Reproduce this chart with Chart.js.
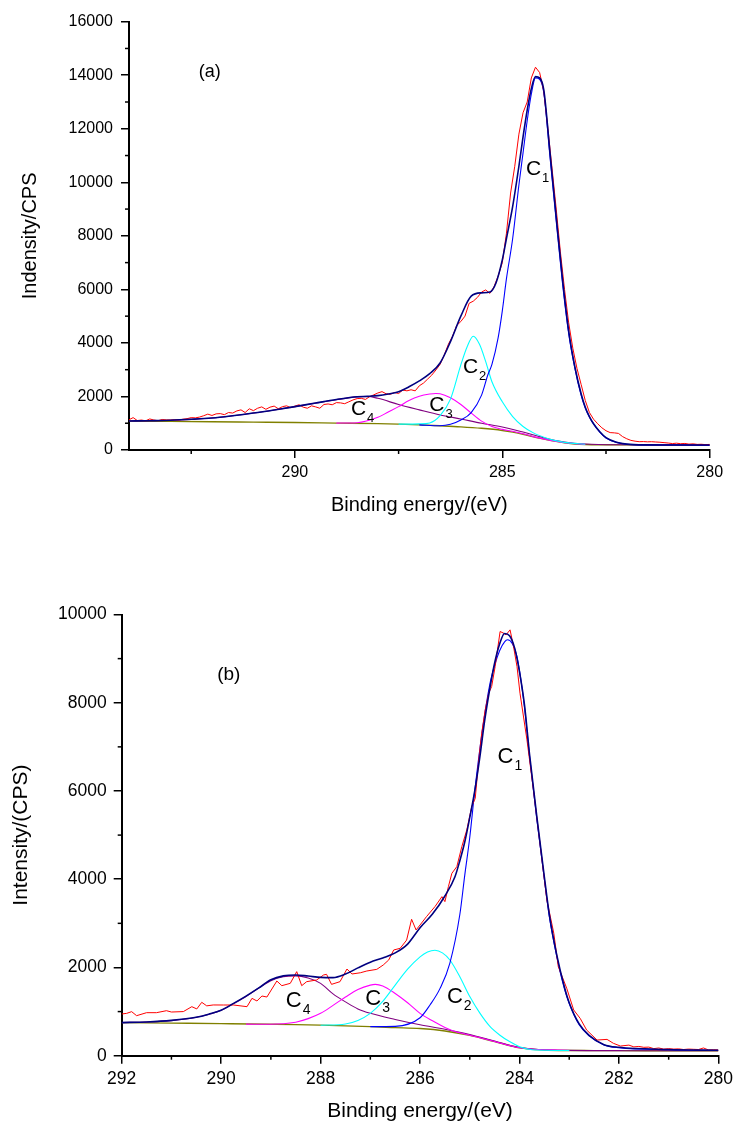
<!DOCTYPE html>
<html>
<head>
<meta charset="utf-8">
<title>C 1s XPS spectra</title>
<script src="https://cdn.jsdelivr.net/npm/chart.js@4.4.1/dist/chart.umd.min.js"></script>
<style>
  html, body { margin: 0; padding: 0; background: #fff; }
  body { width: 734px; height: 1122px; position: relative; overflow: hidden; }
  canvas { position: absolute; left: 0; }
  #chartA { top: 0; }
  #chartB { top: 560px; }
</style>
</head>
<body>
<canvas id="chartA" width="734" height="540"></canvas>
<canvas id="chartB" width="734" height="562"></canvas>
<script>
const FONT = "'Liberation Sans', Arial, sans-serif";

// ---------- panel (a) ----------
const xTicksA = [290, 285, 280];
const xMinorA = [292.5, 287.5, 282.5];
const yTicksA = [0, 2000, 4000, 6000, 8000, 10000, 12000, 14000, 16000];
const yMinorA = [1000, 3000, 5000, 7000, 9000, 11000, 13000, 15000];

// measured counts, 294.0 eV down to 280.0 eV every 0.1 eV
const rawStartA = 294;
const rawStepA = 0.1;
const rawA = [
  1130, 1210, 1100, 1120, 1090, 1160, 1120, 1095, 1140, 1125,
  1120, 1130, 1120, 1150, 1170, 1210, 1200, 1230, 1280, 1340,
  1290, 1350, 1360, 1320, 1400, 1380, 1460, 1500, 1400, 1540,
  1470, 1560, 1610, 1520, 1600, 1640, 1540, 1620, 1650, 1580,
  1640, 1690, 1600, 1560, 1650, 1610, 1560, 1700, 1720, 1690,
  1770, 1760, 1730, 1800, 1870, 1920, 1930, 1890, 1990, 2060,
  2130, 2180, 2100, 2080, 2150, 2110, 2240, 2210, 2250, 2210,
  2400, 2500, 2650, 2800, 2990, 3200, 3550, 3950, 4250, 4650,
  4800, 5000, 5480, 5560, 5700, 5900, 5980, 5850, 6100, 6500,
  7000, 8100, 9600, 10600, 11800, 12600, 13000, 13900, 14300, 14100,
  13400, 12000, 10500, 9000, 7400, 6000, 4750, 3800, 3050, 2450,
  1850, 1400, 1150, 980, 830, 720, 650, 640, 620, 500,
  420, 360, 330, 310, 315, 305, 310, 300, 290, 275,
  260, 240, 255, 235, 245, 220, 230, 210, 215, 200,
  210
];

const envelopeA = [[294,1085],[293.5,1095],[293,1110],[292.5,1146],[292,1195],[291.5,1280],[291,1380],[290.5,1495],[290,1620],[289.5,1755],[289,1885],[288.5,1990],[288.25,2005],[288,2030],[287.75,2090],[287.5,2180],[287.25,2360],[287,2580],[286.75,2850],[286.5,3250],[286.25,4050],[286,5000],[285.75,5750],[285.5,5870],[285.3,5900],[285.15,6250],[285,7100],[284.9,7900],[284.75,9100],[284.6,10600],[284.5,11700],[284.4,12700],[284.3,13500],[284.2,13950],[284.1,13900],[284,13450],[283.85,11100],[283.7,8700],[283.55,6400],[283.4,4450],[283.25,3100],[283.1,2100],[283,1600],[282.9,1250],[282.8,980],[282.65,680],[282.5,460],[282.25,290],[282,220],[281.5,190],[281,186],[280,184]];
const c1A = [[287,940],[286.5,905],[286.25,960],[286,1120],[285.75,1400],[285.5,2050],[285.35,2800],[285.25,3200],[285.1,4200],[285,5200],[284.9,6400],[284.75,7900],[284.6,9900],[284.5,11100],[284.4,12300],[284.3,13300],[284.2,13900],[284.1,13850],[284,13350],[283.85,10950],[283.7,8550],[283.55,6250],[283.4,4350],[283.25,3050],[283.1,2050],[283,1570],[282.9,1230],[282.8,970],[282.65,670],[282.5,450],[282.25,285],[282,215],[281.5,188],[281,185],[280,183]];
const c2A = [[287.5,965],[287,975],[286.75,1010],[286.5,1280],[286.25,1900],[286,3180],[285.85,3850],[285.7,4250],[285.55,3950],[285.4,3300],[285.25,2550],[285,1800],[284.75,1250],[284.5,880],[284.25,640],[284,480],[283.75,360],[283.5,285],[283,215]];
const c3A = [[289,1005],[288.5,1020],[288,1220],[287.75,1420],[287.5,1620],[287.25,1850],[287,2010],[286.75,2090],[286.6,2110],[286.5,2100],[286.25,1950],[286,1700],[285.75,1380],[285.5,1080],[285.25,880],[285,770],[284.75,700],[284.5,610],[284.25,500],[284,415],[283.5,275],[283,210]];
const c4A = [[294,1085],[293.5,1095],[293,1110],[292.5,1145],[292,1195],[291.5,1280],[291,1380],[290.5,1495],[290,1620],[289.5,1750],[289,1880],[288.5,1985],[288.25,2000],[288,1930],[287.5,1700],[287,1500],[286.5,1310],[286,1160],[285.5,1000],[285,860],[284.5,670],[284,460],[283.5,300],[283,225],[282,195],[280,183]];
const backgroundA = [[294,1080],[293,1068],[292,1055],[291,1040],[290,1025],[289,1005],[288,985],[287.5,965],[287,940],[286.5,905],[286,865],[285.5,810],[285,730],[284.75,670],[284.5,590],[284.25,490],[284,410],[283.75,330],[283.5,270],[283.25,225],[283,205],[282.5,195],[282,190],[281,186],[280,182]];

// ---------- panel (b) ----------
const xTicksB = [292, 290, 288, 286, 284, 282, 280];
const xMinorB = [291, 289, 287, 285, 283, 281];
const yTicksB = [0, 2000, 4000, 6000, 8000, 10000];
const yMinorB = [1000, 3000, 5000, 7000, 9000];

const rawB = [[292.0,945],[291.9,960],[291.8,998],[291.7,907],[291.5,975],[291.3,975],[291.1,1020],[291.0,990],[290.76,1000],[290.59,1111],[290.49,1060],[290.39,1210],[290.29,1130],[290.16,1150],[289.95,1149],[289.75,1149],[289.48,1111],[289.38,1300],[289.28,1240],[289.18,1353],[289.08,1330],[288.88,1693],[288.78,1587],[288.61,1640],[288.48,1905],[288.38,1587],[288.28,1678],[288.08,1716],[287.94,1830],[287.88,1844],[287.78,1617],[287.61,1678],[287.47,1965],[287.37,1852],[287.2,1880],[287.07,1920],[286.87,1957],[286.74,2056],[286.63,2170],[286.53,2396],[286.4,2434],[286.27,2620],[286.17,3092],[286.08,2850],[286.0,2963],[285.87,3152],[285.7,3379],[285.56,3605],[285.5,3492],[285.43,3832],[285.36,4134],[285.26,4286],[285.16,4739],[285.06,5117],[284.96,5646],[284.89,5835],[284.82,6704],[284.76,7309],[284.69,7838],[284.62,8216],[284.56,8367],[284.49,8821],[284.39,9615],[284.32,9577],[284.27,9539],[284.19,9652],[284.12,9274],[284.05,8821],[283.99,8216],[283.85,7158],[283.72,6024],[283.58,4739],[283.45,3530],[283.31,2774],[283.22,2018],[283.05,1527],[282.91,1036],[282.78,847],[282.65,582],[282.44,355],[282.24,370],[282.11,280],[281.97,219],[281.8,240],[281.7,200],[281.6,210],[281.5,190],[281.4,195],[281.3,160],[281.2,175],[281.1,150],[281.0,160],[280.9,150],[280.8,155],[280.7,140],[280.6,150],[280.5,145],[280.4,140],[280.3,175],[280.2,130],[280.1,135],[280.0,130]];
const envelopeB = [[292,750],[291.5,765],[291,800],[290.5,870],[290.25,940],[290,1030],[289.75,1185],[289.5,1350],[289.25,1530],[289,1720],[288.75,1810],[288.5,1830],[288.25,1805],[288,1775],[287.75,1770],[287.5,1850],[287.25,1990],[287,2120],[286.75,2215],[286.5,2330],[286.25,2530],[286,2900],[285.75,3210],[285.5,3620],[285.3,4050],[285.2,4420],[285.1,4850],[285,5400],[284.9,6000],[284.8,6750],[284.7,7600],[284.6,8300],[284.5,8900],[284.4,9330],[284.3,9570],[284.2,9520],[284.1,9250],[284,8700],[283.9,7950],[283.8,6850],[283.65,5400],[283.5,4050],[283.4,3200],[283.25,2280],[283.1,1570],[283,1200],[282.8,720],[282.6,460],[282.3,250],[282,190],[281,140],[280,122]];
const c1B = [[287,658],[286.5,665],[286,860],[285.8,1150],[285.6,1520],[285.4,2100],[285.2,3200],[285.1,4100],[285,4950],[284.9,6000],[284.75,7350],[284.6,8400],[284.5,8850],[284.4,9180],[284.3,9380],[284.24,9426],[284.15,9350],[284.05,9048],[283.9,7900],[283.8,6800],[283.65,5344],[283.5,4000],[283.4,3150],[283.25,2245],[283.1,1530],[283,1180],[282.8,700],[282.6,450],[282.3,245],[282,180],[281,135],[280,120]];
const c2B = [[288,690],[287.5,720],[287.25,800],[287,960],[286.75,1230],[286.5,1600],[286.25,1960],[286,2240],[285.85,2350],[285.7,2390],[285.55,2330],[285.4,2170],[285.2,1790],[285,1340],[284.8,970],[284.6,670],[284.4,470],[284.2,320],[284,205],[283.75,135],[283.5,122],[283,118]];
const c3B = [[289.5,715],[289,712],[288.5,760],[288.25,840],[288,960],[287.75,1140],[287.5,1330],[287.25,1500],[287,1600],[286.9,1617],[286.75,1580],[286.5,1410],[286.25,1200],[286,960],[285.75,790],[285.5,640],[285.25,530],[285,465],[284.5,322],[284,182],[283,118]];
const c4B = [[292,750],[291.5,765],[291,795],[290.5,870],[290,1030],[289.75,1180],[289.5,1340],[289.25,1530],[289,1700],[288.75,1790],[288.5,1810],[288.25,1760],[288,1640],[287.75,1400],[287.5,1220],[287.25,1060],[287,960],[286.5,820],[286,700],[285.5,600],[285,480],[284.5,330],[284,185],[283,120],[282,114],[280,112]];
const backgroundB = [[292,750],[291,738],[290,726],[289,713],[288.5,705],[288,692],[287.5,676],[287,658],[286.5,637],[286,615],[285.5,560],[285,460],[284.5,320],[284,180],[283.5,130],[283,118],[282.5,116],[282,114],[281,113],[280,112]];

// ---------- helpers ----------
function toPoints(pairs) {
  return pairs.map(p => ({ x: p[0], y: p[1] }));
}

function series(pairs, color, width, smooth) {
  return {
    data: toPoints(pairs),
    borderColor: color,
    borderWidth: width,
    pointRadius: 0,
    fill: false,
    tension: 0,
    cubicInterpolationMode: smooth ? 'monotone' : 'default'
  };
}

// minor ticks, panel letter and peak labels
const annotate = {
  id: 'annotate',
  afterDraw(chart, args, o) {
    const { ctx, chartArea } = chart;
    const x = chart.scales.x, y = chart.scales.y;
    ctx.save();
    ctx.strokeStyle = '#000';
    ctx.lineWidth = 1.5;
    o.minorX.forEach(v => {
      const px = x.getPixelForValue(v);
      ctx.beginPath();
      ctx.moveTo(px, chartArea.bottom);
      ctx.lineTo(px, chartArea.bottom + 4);
      ctx.stroke();
    });
    o.minorY.forEach(v => {
      const py = y.getPixelForValue(v);
      ctx.beginPath();
      ctx.moveTo(chartArea.left, py);
      ctx.lineTo(chartArea.left - 4, py);
      ctx.stroke();
    });

    ctx.fillStyle = '#000';
    ctx.textAlign = 'left';
    ctx.textBaseline = 'middle';
    ctx.font = o.panelSize + 'px ' + FONT;
    ctx.fillText(o.panel.text, x.getPixelForValue(o.panel.e), y.getPixelForValue(o.panel.v));

    ctx.textBaseline = 'alphabetic';
    o.peaks.forEach(p => {
      const px = x.getPixelForValue(p.e);
      const py = y.getPixelForValue(p.v);
      ctx.font = o.cSize + 'px ' + FONT;
      ctx.fillText('C', px, py);
      const w = ctx.measureText('C').width;
      ctx.font = o.subSize + 'px ' + FONT;
      ctx.fillText(p.n, px + w + 1, py + 7);
    });
    ctx.restore();
  }
};

function buildChart(id, p) {
  return new Chart(document.getElementById(id), {
    type: 'line',
    data: {
      datasets: [
        series(p.envelope, '#000080', 1.6, true),
        series(p.raw, '#ff0000', 1, false),
        series(p.c1, '#0000ff', 1.1, true),
        series(p.c2, '#00ffff', 1.1, true),
        series(p.c3, '#ff00ff', 1.1, true),
        series(p.c4, '#800080', 1.1, true),
        series(p.bg, '#808000', 1.4, true)
      ]
    },
    options: {
      responsive: false,
      animation: false,
      events: [],
      layout: { padding: p.padding },
      plugins: {
        legend: { display: false },
        tooltip: { enabled: false },
        annotate: p.notes
      },
      scales: {
        x: {
          type: 'linear',
          reverse: true,
          min: p.xMin,
          max: p.xMax,
          afterBuildTicks: s => { s.ticks = p.xTicks.map(v => ({ value: v })); },
          afterFit: s => { s.height = p.xBox; s.paddingLeft = 0; s.paddingRight = 0; },
          ticks: {
            autoSkip: false, maxRotation: 0, color: '#000', padding: 5,
            font: { family: FONT, size: p.tickSize },
            callback: v => String(v)
          },
          grid: { drawOnChartArea: false, drawTicks: true, tickLength: 8, color: '#000', lineWidth: 1.5 },
          border: { display: true, color: '#000', width: 2 },
          title: {
            display: true, text: 'Binding energy/(eV)', color: '#000',
            font: { family: FONT, size: p.titleSize, lineHeight: 1 }, padding: { top: 0, bottom: p.xTitlePad }
          }
        },
        y: {
          type: 'linear',
          min: 0,
          max: p.yMax,
          afterBuildTicks: s => { s.ticks = p.yTicks.map(v => ({ value: v })); },
          afterFit: s => { s.width = p.yBox; s.paddingTop = 0; s.paddingBottom = 0; },
          ticks: {
            color: '#000', padding: p.yTickPad,
            font: { family: FONT, size: p.tickSize },
            callback: v => String(v)
          },
          grid: { drawOnChartArea: false, drawTicks: true, tickLength: 8, color: '#000', lineWidth: 1.5 },
          border: { display: true, color: '#000', width: 2 },
          title: {
            display: true, text: p.yTitle, color: '#000',
            font: { family: FONT, size: p.titleSize, lineHeight: 1 }, padding: { top: p.yTitlePad, bottom: 0 }
          }
        }
      }
    },
    plugins: [annotate]
  });
}

const rawPairsA = rawA.map((v, i) => [+(rawStartA - i * rawStepA).toFixed(1), v]);

buildChart('chartA', {
  raw: rawPairsA, envelope: envelopeA, c1: c1A, c2: c2A, c3: c3A, c4: c4A, bg: backgroundA,
  xMin: 280, xMax: 294, xTicks: xTicksA, yMax: 16000, yTicks: yTicksA,
  padding: { left: 0, top: 21.7, right: 24.3, bottom: 0 },
  xBox: 90, yBox: 129, tickSize: 16, titleSize: 20,
  xTitlePad: 25, yTitlePad: 20, yTickPad: 8,
  yTitle: 'Indensity/CPS',
  notes: {
    minorX: xMinorA, minorY: yMinorA,
    panel: { text: '(a)', e: 292.32, v: 14130 }, panelSize: 18,
    cSize: 21, subSize: 13,
    peaks: [
      { n: '1', e: 284.43, v: 10280 },
      { n: '2', e: 285.95, v: 2867 },
      { n: '3', e: 286.76, v: 1469 },
      { n: '4', e: 288.65, v: 1308 }
    ]
  }
});

buildChart('chartB', {
  raw: rawB, envelope: envelopeB, c1: c1B, c2: c2B, c3: c3B, c4: c4B, bg: backgroundB,
  xMin: 280, xMax: 292, xTicks: xTicksB, yMax: 10000, yTicks: yTicksB,
  padding: { left: 0, top: 54.5, right: 15.6, bottom: 0 },
  xBox: 66.3, yBox: 121.7, tickSize: 17.5, titleSize: 21,
  xTitlePad: 0, yTitlePad: 10.5, yTickPad: 7,
  yTitle: 'Intensity/(CPS)',
  notes: {
    minorX: xMinorB, minorY: yMinorB,
    panel: { text: '(b)', e: 290.08, v: 8633 }, panelSize: 19,
    cSize: 22, subSize: 14,
    peaks: [
      { n: '1', e: 284.44, v: 6630 },
      { n: '2', e: 285.46, v: 1188 },
      { n: '3', e: 287.1, v: 1150 },
      { n: '4', e: 288.7, v: 1111 }
    ]
  }
});
</script>
</body>
</html>
